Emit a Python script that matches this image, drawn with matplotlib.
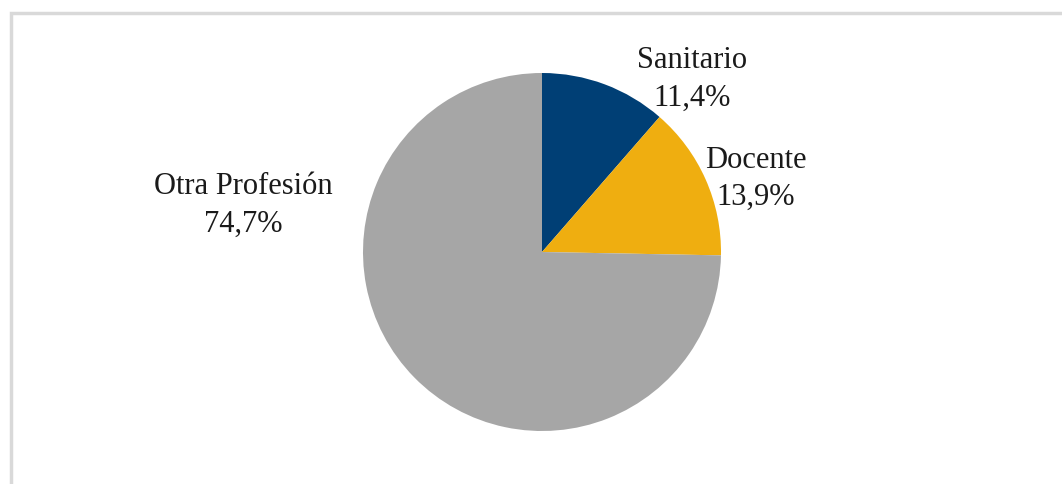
import matplotlib.pyplot as plt
from matplotlib.patches import Rectangle

categories = ["Sanitario", "Docente", "Otra Profesión"]
values = [11.4, 13.9, 74.7]
value_labels = ["11,4%", "13,9%", "74,7%"]
colors = ["#003f75", "#efae10", "#a6a6a6"]

W, H = 1062, 485
fig = plt.figure(figsize=(W / 100, H / 100), dpi=100)
ax = fig.add_axes([0, 0, 1, 1])

# chart frame (top and left edges visible in the crop)
ax.add_patch(Rectangle((10.5, -20), W + 20, H - 14 + 20, fill=False,
                       edgecolor="#d9d9d9", linewidth=2.5))

ax.pie(values, colors=colors, startangle=90, counterclock=False,
       center=(542, H - 253), radius=179,
       wedgeprops=dict(linewidth=0), frame=True)
ax.set_xlim(0, W)
ax.set_ylim(0, H)
ax.set_aspect("equal")
ax.axis("off")

label_pos = [(692, 61), (756, 160), (243, 187)]
for name, val, (x, y) in zip(categories, value_labels, label_pos):
    ax.text(x, H - y, name, ha="center", va="center",
            fontsize=22, family="Liberation Serif", color="#1a1a1a")
    ax.text(x, H - y - 37, val, ha="center", va="center",
            fontsize=22, family="Liberation Serif", color="#1a1a1a")

fig.savefig("out.png", dpi=100)
